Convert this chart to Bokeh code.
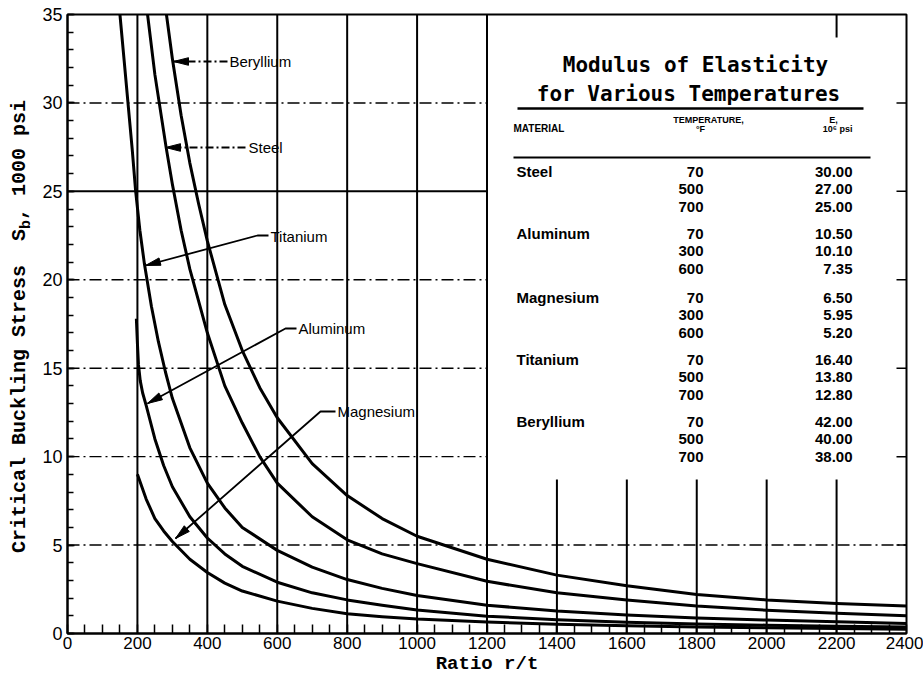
import math
from bokeh.plotting import figure
from bokeh.models import Range1d, FixedTicker, Label, Div
from bokeh.layouts import row
from bokeh.embed import file_html
from bokeh.resources import INLINE

# ---------------- data ----------------
x_ticks = [0, 200, 400, 600, 800, 1000, 1200, 1400, 1600, 1800, 2000, 2200, 2400]
y_ticks = [0, 5, 10, 15, 20, 25, 30, 35]

beryllium_x = [283, 300, 325, 350, 375, 400, 450, 500, 550, 600, 700, 800, 900, 1000,
               1200, 1400, 1600, 1800, 2000, 2200, 2400]
beryllium_y = [35.0, 32.5, 29.3, 26.6, 24.3, 22.2, 18.6, 16.0, 13.9, 12.2, 9.6, 7.8, 6.5, 5.5,
               4.2, 3.3, 2.7, 2.2, 1.9, 1.7, 1.55]

steel_x = [229, 250, 282, 300, 325, 350, 400, 450, 500, 550, 600, 700, 800, 900, 1000,
           1200, 1400, 1600, 1800, 2000, 2200, 2400]
steel_y = [35.0, 31.6, 27.5, 25.4, 22.8, 20.6, 17.0, 14.0, 11.9, 10.0, 8.5, 6.6, 5.3, 4.5, 3.95,
           2.95, 2.3, 1.9, 1.55, 1.32, 1.15, 1.0]

titanium_x = [150, 162, 173, 185, 195, 207, 220, 240, 260, 280, 300, 350, 400, 450, 500, 600,
              700, 800, 900, 1000, 1200, 1400, 1600, 1800, 2000, 2200, 2400]
titanium_y = [35.0, 32.4, 30.0, 27.4, 25.0, 22.8, 20.9, 18.5, 16.5, 14.8, 13.3, 10.5, 8.5, 7.1, 6.0, 4.7,
              3.75, 3.05, 2.55, 2.15, 1.6, 1.27, 1.04, 0.88, 0.76, 0.66, 0.57]

aluminum_x = [197, 200, 203, 208, 215, 225, 250, 275, 300, 350, 400, 450, 500, 600, 700, 800,
              900, 1000, 1200, 1400, 1600, 1800, 2000, 2200, 2400]
aluminum_y = [17.8, 16.4, 15.2, 14.3, 13.6, 12.9, 11.0, 9.5, 8.3, 6.6, 5.4, 4.5, 3.8, 2.9, 2.3, 1.9,
              1.6, 1.33, 0.98, 0.78, 0.64, 0.54, 0.47, 0.41, 0.37]

magnesium_x = [200, 225, 250, 275, 300, 350, 400, 450, 500, 600, 700, 800, 900, 1000,
               1200, 1400, 1600, 1800, 2000, 2200, 2400]
magnesium_y = [9.0, 7.6, 6.5, 5.8, 5.2, 4.2, 3.45, 2.85, 2.4, 1.83, 1.42, 1.12, 0.95, 0.82,
               0.65, 0.53, 0.44, 0.37, 0.32, 0.28, 0.24]

table_materials = ["Steel", "Aluminum", "Magnesium", "Titanium", "Beryllium"]
table_temps = [["70", "500", "700"], ["70", "300", "600"], ["70", "300", "600"],
               ["70", "500", "700"], ["70", "500", "700"]]
table_moduli = [["30.00", "27.00", "25.00"], ["10.50", "10.10", "7.35"], ["6.50", "5.95", "5.20"],
                ["16.40", "13.80", "12.80"], ["42.00", "40.00", "38.00"]]

# ---------------- layout ----------------
PAGE_W, PAGE_H = 923, 681
DIV_W = 30                                   # column holding the rotated y title
FL, FR, FT, FB = 67, 906, 14, 633            # frame edges in page pixels
XMAX, YMAX = x_ticks[-1], y_ticks[-1]


def dx(px):
    return (px - FL) * XMAX / (FR - FL)


def dy(py):
    return (FB - py) * YMAX / (FB - FT)


W = PAGE_W - DIV_W
p = figure(width=W, height=PAGE_H, x_range=Range1d(0, XMAX), y_range=Range1d(0, YMAX),
           output_backend="svg", toolbar_location=None,
           min_border_left=FL - DIV_W, min_border_right=PAGE_W - FR,
           min_border_top=FT, min_border_bottom=PAGE_H - FB)
p.xgrid.visible = False
p.ygrid.visible = False
p.outline_line_color = "black"
p.outline_line_width = 2
p.background_fill_color = "white"
p.border_fill_color = "white"

TICK_FONT = "Liberation Sans"
MONO = "Liberation Mono"

xa = p.xaxis[0]
xa.ticker = FixedTicker(ticks=x_ticks, minor_ticks=list(range(0, XMAX + 1, 50)))
xa.major_tick_in = 0
xa.major_tick_out = 0
xa.minor_tick_in = 9
xa.minor_tick_out = 0
xa.minor_tick_line_width = 1.5
xa.minor_tick_line_color = "black"
xa.axis_line_width = 2
xa.axis_line_color = "black"
xa.major_label_text_font = TICK_FONT
xa.major_label_text_font_size = "17px"
xa.major_label_text_color = "black"
xa.major_label_standoff = 3
xa.axis_label = "Ratio r/t"
xa.axis_label_text_font = MONO
xa.axis_label_text_font_style = "bold"
xa.axis_label_text_font_size = "19px"
xa.axis_label_text_color = "black"
xa.axis_label_standoff = 1

ya = p.yaxis[0]
ya.ticker = FixedTicker(ticks=y_ticks, minor_ticks=list(range(0, YMAX + 1)))
ya.major_tick_in = 7
ya.major_tick_out = 0
ya.major_tick_line_width = 1.5
ya.minor_tick_in = 6
ya.minor_tick_out = 0
ya.minor_tick_line_width = 1.5
ya.minor_tick_line_color = "black"
ya.axis_line_width = 2
ya.axis_line_color = "black"
ya.major_label_text_font = TICK_FONT
ya.major_label_text_font_size = "18px"
ya.major_label_text_color = "black"
ya.major_label_standoff = 5

# inward ticks on the right border
rt = y_ticks[1:-1]
p.segment(x0=[dx(FR - 10)] * len(rt), y0=rt, x1=[XMAX] * len(rt), y1=rt,
          line_color="black", line_width=1.5)

# ---------------- grid ----------------
table_bottom = dy(479)
full_v = [t for t in x_ticks[1:-1] if t <= 1200]
low_v = [t for t in x_ticks[1:-1] if t > 1200]
p.segment(x0=full_v, y0=[0] * len(full_v), x1=full_v, y1=[YMAX] * len(full_v),
          line_color="black", line_width=2)
p.segment(x0=low_v, y0=[0] * len(low_v), x1=low_v, y1=[table_bottom] * len(low_v),
          line_color="black", line_width=2)
p.segment(x0=[2200], y0=[dy(37)], x1=[2200], y1=[YMAX], line_color="black", line_width=2)

dash_y = [5, 10, 15, 20, 30]
dash_end = [XMAX if v == 5 else 1200 for v in dash_y]
p.segment(x0=[0] * len(dash_y), y0=dash_y, x1=dash_end, y1=dash_y,
          line_color="black", line_width=1.4, line_dash="12 4 2 4")
p.segment(x0=[0], y0=[25], x1=[1200], y1=[25], line_color="black", line_width=2)

# ---------------- curves ----------------
for xs, ys in [(beryllium_x, beryllium_y), (steel_x, steel_y), (titanium_x, titanium_y),
               (aluminum_x, aluminum_y), (magnesium_x, magnesium_y)]:
    p.line(xs, ys, line_color="black", line_width=3, line_join="round")

# ---------------- leaders with arrowheads ----------------
leaders = [
    ("Beryllium", [(227, 61), (173, 61)], True, (229, 61)),
    ("Steel", [(245, 147), (165, 147)], True, (248, 147)),
    ("Titanium", [(268, 235), (257, 235), (145, 265)], False, (270, 236)),
    ("Aluminum", [(296, 328), (285, 328), (147, 403)], False, (298, 328)),
    ("Magnesium", [(335, 411), (320, 411), (175, 538)], False, (337, 411)),
]
head_xs, head_ys = [], []
for name, pts, dashed, tpos in leaders:
    kw = dict(line_dash="8 3 2 3") if dashed else {}
    p.line([dx(a) for a, b in pts], [dy(b) for a, b in pts], line_color="black",
           line_width=1.8, **kw)
    (ax_, ay_), (bx_, by_) = pts[-2], pts[-1]
    L = math.hypot(bx_ - ax_, by_ - ay_)
    ux, uy = (bx_ - ax_) / L, (by_ - ay_) / L
    hl, hw = 15, 3.8
    cx, cy = bx_ - hl * ux, by_ - hl * uy
    nx, ny = -uy, ux
    tri = [(bx_, by_), (cx + hw * nx, cy + hw * ny), (cx - hw * nx, cy - hw * ny)]
    head_xs.append([dx(a) for a, b in tri])
    head_ys.append([dy(b) for a, b in tri])
    p.add_layout(Label(x=dx(tpos[0]), y=dy(tpos[1]), text=name, text_font=TICK_FONT,
                       text_font_size="15px", text_baseline="middle", text_align="left",
                       text_color="black"))
p.patches(head_xs, head_ys, fill_color="black", line_color="black", line_width=1)

# ---------------- table ----------------
TITLE_FONT = "DejaVu Sans Mono"
p.add_layout(Label(x=dx(695), y=dy(64), text="Modulus of Elasticity", text_font=TITLE_FONT,
                   text_font_style="bold", text_font_size="21px", text_align="center",
                   text_baseline="middle", text_color="black"))
p.add_layout(Label(x=dx(688), y=dy(93), text="for Various Temperatures", text_font=TITLE_FONT,
                   text_font_style="bold", text_font_size="21px", text_align="center",
                   text_baseline="middle", text_color="black"))
p.segment(x0=[dx(517), dx(513)], y0=[dy(108), dy(157)], x1=[dx(863), dx(870)],
          y1=[dy(108), dy(157)], line_color="black", line_width=[2.5, 2])


def tlabel(px, py, text, size, align="left"):
    p.add_layout(Label(x=dx(px), y=dy(py), text=text, text_font=TICK_FONT,
                       text_font_style="bold", text_font_size=size, text_align=align,
                       text_baseline="middle", text_color="black"))


tlabel(708, 119, "TEMPERATURE,", "9px", "center")
tlabel(700, 128, "°F", "9px", "center")
tlabel(513, 128, "MATERIAL", "10px", "left")
tlabel(833, 119, "E,", "9px", "center")
tlabel(852, 128, "10⁶ psi", "9px", "right")

group_y = [171, 233, 297, 359, 421]
row_step = 17.8
for g, name in enumerate(table_materials):
    y0 = group_y[g]
    tlabel(516, y0, name, "15px", "left")
    for r in range(3):
        yy = y0 + r * row_step
        tlabel(703, yy, table_temps[g][r], "15px", "right")
        tlabel(852, yy, table_moduli[g][r], "15px", "right")

# ---------------- rotated y-axis title (with subscript) ----------------
ytitle_html = (
    '<div style="position:absolute; left:10px; top:553px; transform:rotate(-90deg); '
    'transform-origin:0 0; white-space:nowrap; font-family:\'Liberation Mono\', monospace; '
    'font-weight:bold; font-size:20px; line-height:20px; color:black;">'
    'Critical Buckling Stress&nbsp; S<sub style="font-size:15px; line-height:0;">b</sub>, 1000 psi'
    '</div>'
)
ydiv = Div(text=ytitle_html, width=DIV_W, height=PAGE_H, margin=0,
           styles={"position": "relative", "overflow": "visible"})

layout = row(ydiv, p, spacing=0)
open("out.html", "w").write(file_html(layout, INLINE))
